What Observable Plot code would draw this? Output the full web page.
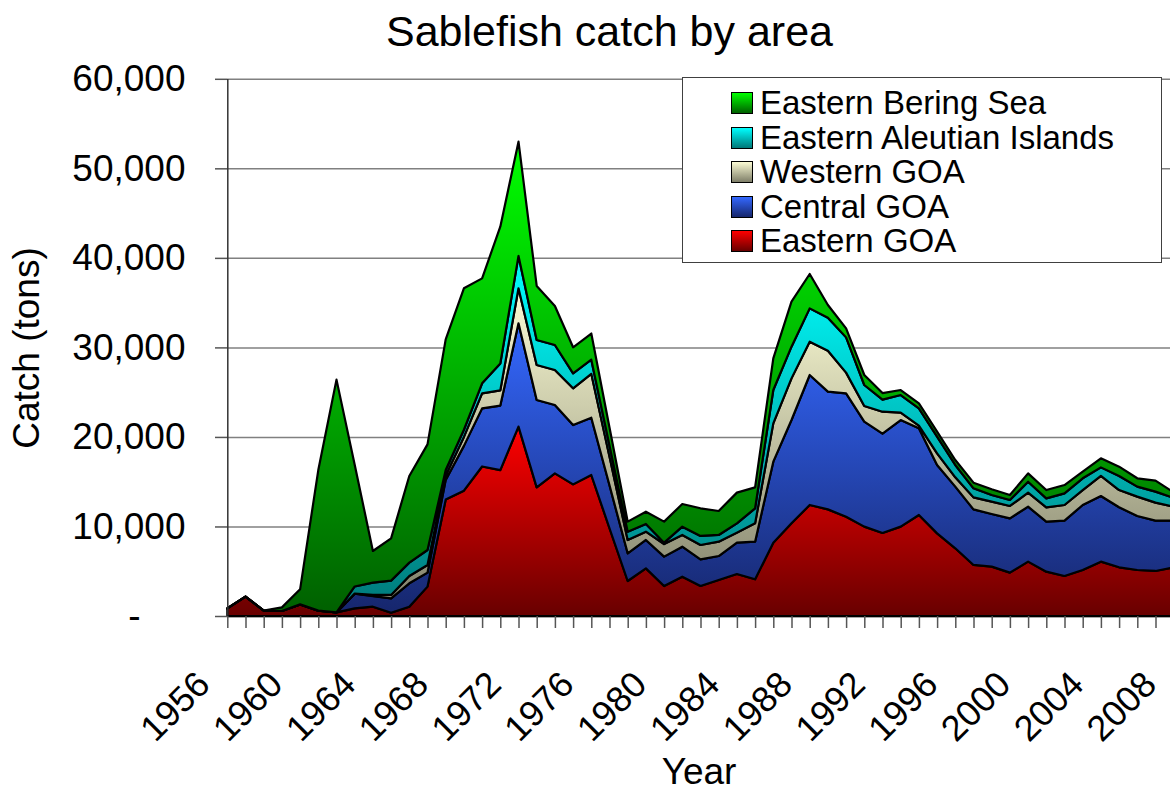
<!DOCTYPE html>
<html>
<head>
<meta charset="utf-8">
<script src="https://cdn.jsdelivr.net/npm/d3@7"></script>
<script src="https://cdn.jsdelivr.net/npm/@observablehq/plot@0.6"></script>
<style>
  html, body { margin: 0; padding: 0; background: #fff; overflow: hidden; }
  #wrap { position: relative; width: 1170px; height: 792px; font-family: "Liberation Sans", Arial, sans-serif; color: #000; }
  #title { position: absolute; left: 0; top: 10px; width: 1219px; text-align: center; font-size: 43px; line-height: 43px; white-space: nowrap; }
  #chart { position: absolute; left: 0; top: 0; }
  #legend { position: absolute; left: 682px; top: 77px; width: 478px; height: 184px; background: #fff; border: 1.5px solid #404040; }
  .row { position: absolute; left: 0; height: 34px; display: flex; align-items: center; }
  .sw { position: absolute; left: 48px; width: 20px; height: 20px; border: 1px solid #000; }
  .lab { position: absolute; left: 77px; font-size: 33px; line-height: 34px; white-space: nowrap; }
</style>
</head>
<body>
<div id="wrap">
  <div id="chart"></div>
  <div id="title">Sablefish catch by area</div>
  <div id="legend"></div>
</div>
<script>
// ---- data (tons) ----
const years = [1956,1957,1958,1959,1960,1961,1962,1963,1964,1965,1966,1967,1968,1969,1970,1971,1972,1973,1974,1975,1976,1977,1978,1979,1980,1981,1982,1983,1984,1985,1986,1987,1988,1989,1990,1991,1992,1993,1994,1995,1996,1997,1998,1999,2000,2001,2002,2003,2004,2005,2006,2007,2008];

const easternGOA = [850,2160,600,560,1300,600,400,850,1040,370,1040,3280,13000,14000,16700,16300,21150,14370,15930,14700,15750,9800,3910,5320,3350,4390,3350,4020,4690,4100,8190,10350,12400,11910,11090,9980,9270,9980,11280,9230,7560,5700,5510,4840,6070,4950,4470,5140,6070,5440,5140,5030,5440];

const centralGOA = [0,0,0,0,0,0,0,1650,1190,1600,2610,1560,2200,5000,6490,7200,11540,9760,7640,6630,6400,4800,3090,3170,3280,3350,2980,2680,3500,4200,9050,11540,14520,13150,13780,11730,11100,11910,9680,7640,6890,6210,5880,6070,6140,5590,6180,7260,7330,6700,6030,5620,5210];

const westernGOA = [0,0,0,0,0,0,0,0,120,380,820,860,500,1000,1680,1700,3910,3900,3910,4100,4900,3200,1490,930,1410,1310,1600,1600,1120,2050,4280,4650,3720,4570,2310,1740,2450,820,300,1300,1040,1340,1380,1380,1560,1600,1750,1670,2240,1930,2160,2010,1560];

const easternAleutians = [0,0,0,0,0,0,0,800,1370,1600,1490,1670,600,800,1120,3000,3610,2800,2790,1670,1580,1250,930,860,150,930,1010,750,1040,1680,3720,3540,3720,3690,3940,2350,1340,1970,1930,1860,1380,1010,740,670,1230,1000,1300,1310,960,1570,1120,1230,970];

const easternBeringSea = [0,0,0,400,1680,15700,26000,13600,3540,4720,9680,11800,14600,15800,11720,15280,12770,6030,4350,2910,2920,2000,1120,1370,2350,2530,3090,2680,3430,2340,3540,5030,3840,1420,1010,1120,740,560,560,560,550,630,640,550,930,930,930,740,1010,1040,930,1230,630];

// stacking order, bottom to top
const areaNames = ["Eastern GOA", "Central GOA", "Western GOA", "Eastern Aleutian Islands", "Eastern Bering Sea"];
const areaValues = [easternGOA, centralGOA, westernGOA, easternAleutians, easternBeringSea];

const yTicks = [0, 10000, 20000, 30000, 40000, 50000, 60000];
const labelYears = [1956,1960,1964,1968,1972,1976,1980,1984,1988,1992,1996,2000,2004,2008];

// gradient colours (top -> bottom)
const gradIds = ["gEGOA", "gCGOA", "gWGOA", "gEAI", "gEBS"];
const gradTop = ["#ff0000", "#3468ff", "#fbfbd4", "#00ffff", "#00ff00"];
const gradBottom = ["#680000", "#16266c", "#7e7e68", "#007878", "#006000"];

const rows = [];
areaNames.forEach((name, i) => years.forEach((yr, j) => rows.push({year: yr, area: name, catch: areaValues[i][j]})));

const font = '"Liberation Sans", Arial, sans-serif';

const chart = Plot.plot({
  width: 1170,
  height: 792,
  marginTop: 79,
  marginBottom: 176,
  marginLeft: 227,
  marginRight: 0,
  style: {fontFamily: font, fontSize: "37px", color: "#000", background: "transparent", overflow: "hidden"},
  x: {domain: [1956, 2008], range: [227.3, 1173.7]},
  y: {domain: [0, 60000], range: [616, 78.8]},
  color: {type: "ordinal", domain: areaNames, range: gradIds.map(id => `url(#${id})`)},
  marks: [
    Plot.gridY({ticks: yTicks, stroke: "#808080", strokeOpacity: 1, strokeWidth: 1.5}),
    Plot.areaY(rows, Plot.stackY({
      x: "year", y: "catch", z: "area", fill: "area", order: areaNames,
      stroke: "#000", strokeWidth: 2.2
    })),
    Plot.ruleX([1956], {stroke: "#333", strokeWidth: 1.5}),
    Plot.ruleY([0], {stroke: "#000", strokeWidth: 1.5}),
    // y axis: non-zero labels
    Plot.axisY({ticks: yTicks.filter(d => d > 0), tickSize: 12, tickPadding: 30, stroke: "#555", strokeWidth: 1.5,
      tickFormat: d => d3.format(",")(d), fontSize: 37, label: null}),
    // y axis: zero shown as "-"
    Plot.axisY({ticks: [0], tickSize: 12, tickPadding: 75, stroke: "#555", strokeWidth: 1.5,
      tickFormat: () => "-", fontSize: 37, label: null}),
    // y axis title
    Plot.axisY({ticks: [], label: "Catch (tons)", labelAnchor: "center", labelOffset: 215, labelArrow: "none", fontSize: 37}),
    // x ticks every year
    Plot.axisX({ticks: years, tickSize: 12, stroke: "#555", strokeWidth: 1.5, tickFormat: () => "", label: null}),
    // x labels every 4 years
    Plot.axisX({ticks: labelYears, tickSize: 0, tickRotate: -45, tickPadding: 62, dx: -24,
      tickFormat: d => String(d), fontSize: 36, label: null}),
    // x axis title
    Plot.axisX({ticks: [], label: "Year", labelAnchor: "center", labelOffset: 167, labelArrow: "none", fontSize: 37})
  ]
});

const defs = d3.select(chart).insert("defs", ":first-child");
gradIds.forEach((id, i) => {
  const g = defs.append("linearGradient").attr("id", id).attr("x1", 0).attr("y1", 0).attr("x2", 0).attr("y2", 1);
  g.append("stop").attr("offset", "0%").attr("stop-color", gradTop[i]);
  g.append("stop").attr("offset", "100%").attr("stop-color", gradBottom[i]);
});

document.getElementById("chart").appendChild(chart);

// legend (top entry = top of stack)
const legend = document.getElementById("legend");
const legendOrder = [4, 3, 2, 1, 0];
legendOrder.forEach((idx, k) => {
  const row = document.createElement("div");
  row.className = "row";
  row.style.top = (8 + k * 34.5) + "px";
  const sw = document.createElement("div");
  sw.className = "sw";
  sw.style.background = `linear-gradient(to bottom, ${gradTop[idx]}, ${gradBottom[idx]})`;
  const lab = document.createElement("div");
  lab.className = "lab";
  lab.textContent = areaNames[idx];
  row.appendChild(sw);
  row.appendChild(lab);
  legend.appendChild(row);
});
</script>
</body>
</html>
